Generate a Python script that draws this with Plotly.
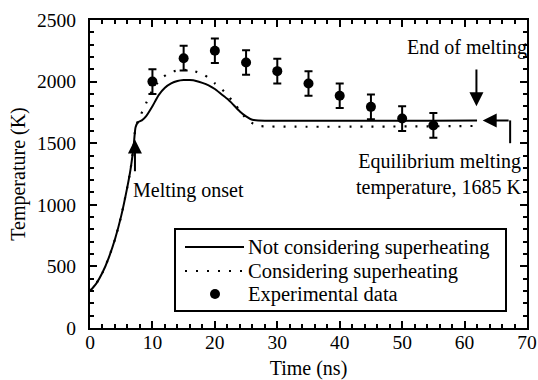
import plotly.graph_objects as go

# ---- data ----
t_model = [0, 1, 2, 3, 4, 5, 6, 6.5, 7, 7.3, 7.7, 8.3, 9, 10, 11, 12, 13, 14, 15, 16,
           17, 18, 19, 20, 21, 22, 23, 24, 25, 26, 27, 62]
T_no_superheat = [300, 360, 450, 570, 720, 910, 1150, 1290, 1480, 1630, 1670, 1685, 1720,
                  1800, 1890, 1950, 1985, 2005, 2013, 2012, 2005, 1990, 1970, 1940, 1900,
                  1860, 1810, 1758, 1718, 1690, 1685, 1685]

t_super = [0, 1, 2, 3, 4, 5, 6, 6.5, 7, 7.3, 7.7, 8.2, 9.1, 10, 11.1, 12.7, 14, 15, 16.4,
           18.3, 20, 21.8, 23, 24, 25, 26.4, 27, 62]
T_superheat = [300, 360, 450, 570, 720, 910, 1150, 1290, 1480, 1630, 1680, 1737, 1837, 1930,
               2008, 2073, 2090, 2095, 2089, 2054, 1986, 1905, 1830, 1765, 1700, 1650, 1640, 1640]

t_exp = [10, 15, 20, 25, 30, 35, 40, 45, 50, 55]
T_exp = [2000, 2190, 2250, 2155, 2085, 1985, 1885, 1795, 1700, 1645]
T_err = [100, 100, 100, 100, 100, 100, 100, 100, 100, 100]

x_ticks = [0, 10, 20, 30, 40, 50, 60, 70]
y_ticks = [0, 500, 1000, 1500, 2000, 2500]

legend_labels = ["Not considering superheating", "Considering superheating", "Experimental data"]

FONT = "Times New Roman, Liberation Serif, DejaVu Serif, serif"
TXT = dict(family=FONT, size=19.5, color="black")
ANN = dict(family=FONT, size=20, color="black")
LEG = dict(family=FONT, size=20.5, color="black")

fig = go.Figure()
fig.add_trace(go.Scatter(x=t_super, y=T_superheat, mode="lines",
                         line=dict(color="black", width=2.2, dash="2px,9px",
                                   shape="spline", smoothing=0.6),
                         showlegend=False, hoverinfo="skip"))
fig.add_trace(go.Scatter(x=t_model, y=T_no_superheat, mode="lines",
                         line=dict(color="black", width=2, shape="spline", smoothing=0.6),
                         showlegend=False))
fig.add_trace(go.Scatter(x=t_exp, y=T_exp, mode="markers",
                         marker=dict(color="black", size=10),
                         error_y=dict(type="data", array=T_err, color="black",
                                      thickness=2, width=4),
                         showlegend=False))

# plot-area geometry in pixels (for legend box / side labels)
L, R, TOP, BOT = 90, 527, 20, 328
def px(xp):
    return (xp - L) / (R - L)
def py(yp):
    return (BOT - yp) / (BOT - TOP)

shapes = []
annotations = []

# custom legend box
shapes.append(dict(type="rect", xref="paper", yref="paper",
                   x0=px(175), x1=px(506), y0=py(311), y1=py(229),
                   line=dict(color="black", width=2), fillcolor="white"))
rows = [247, 271, 294]
shapes.append(dict(type="line", xref="paper", yref="paper",
                   x0=px(185), x1=px(244), y0=py(rows[0]), y1=py(rows[0]),
                   line=dict(color="black", width=2)))
shapes.append(dict(type="line", xref="paper", yref="paper",
                   x0=px(185), x1=px(244), y0=py(rows[1]), y1=py(rows[1]),
                   line=dict(color="black", width=2.2, dash="2px,9px")))
shapes.append(dict(type="circle", xref="paper", yref="paper",
                   xsizemode="pixel", ysizemode="pixel",
                   xanchor=px(215), yanchor=py(rows[2]),
                   x0=-5, x1=5, y0=-5, y1=5,
                   line=dict(color="black", width=0), fillcolor="black"))
for r, lab in zip(rows, legend_labels):
    annotations.append(dict(xref="paper", yref="paper", x=px(246), y=py(r),
                            xanchor="left", yanchor="middle", text=lab,
                            showarrow=False, font=LEG))

# bent arrow for equilibrium temperature
shapes.append(dict(type="line", xref="x", yref="y", x0=67.3, x1=67.3, y0=1685, y1=1500,
                   line=dict(color="black", width=2)))
annotations.append(dict(x=62.9, y=1685, ax=67.3, ay=1685, axref="x", ayref="y",
                        xref="x", yref="y", text="", showarrow=True,
                        arrowhead=2, arrowsize=1.4, arrowwidth=2, arrowcolor="black"))
annotations.append(dict(x=px(523), y=py(174), xref="paper", yref="paper",
                        xanchor="right", yanchor="middle",
                        text="Equilibrium melting<br>temperature, 1685 K", align="right",
                        showarrow=False, font=ANN))

# end of melting
annotations.append(dict(x=61.9, y=1800, ax=61.9, ay=2110, axref="x", ayref="y",
                        xref="x", yref="y", text="", showarrow=True,
                        arrowhead=2, arrowsize=1.4, arrowwidth=2, arrowcolor="black"))
annotations.append(dict(x=px(529), y=py(47), xref="paper", yref="paper",
                        xanchor="right", yanchor="middle",
                        text="End of melting", showarrow=False, font=ANN))

# melting onset
annotations.append(dict(x=7.2, y=1530, ax=7.2, ay=1260, axref="x", ayref="y",
                        xref="x", yref="y", text="", showarrow=True,
                        arrowhead=2, arrowsize=1.4, arrowwidth=2, arrowcolor="black"))
annotations.append(dict(x=6.5, y=1120, xref="x", yref="y", xanchor="left", yanchor="middle",
                        text="Melting onset", showarrow=False, font=ANN))

axis_common = dict(showline=True, linecolor="black", linewidth=2, mirror="allticks",
                   ticks="inside", tickcolor="black", tickwidth=1.5, ticklen=7,
                   showgrid=False, zeroline=False, tickfont=TXT, automargin=False)

fig.update_layout(
    width=538, height=380,
    margin=dict(l=L, r=538 - R, t=TOP, b=380 - BOT, autoexpand=False),
    paper_bgcolor="white", plot_bgcolor="white",
    showlegend=False,
    font=TXT,
    shapes=shapes, annotations=annotations,
    xaxis=dict(range=[0, 70], tickvals=x_ticks, ticktext=[str(v) for v in x_ticks],
               minor=dict(dtick=2, ticks="inside", ticklen=4, tickcolor="black", tickwidth=1.5),
               title=dict(text="Time (ns)", font=ANN, standoff=12),
               ticklabelstandoff=-4,
               **axis_common),
    yaxis=dict(range=[0, 2500], tickvals=y_ticks, ticktext=[str(v) for v in y_ticks],
               minor=dict(dtick=100, ticks="inside", ticklen=4, tickcolor="black", tickwidth=1.5),
               title=dict(text="Temperature (K)", font=ANN, standoff=6),
               ticklabelstandoff=8,
               **axis_common),
)

fig.write_html("out.html")
